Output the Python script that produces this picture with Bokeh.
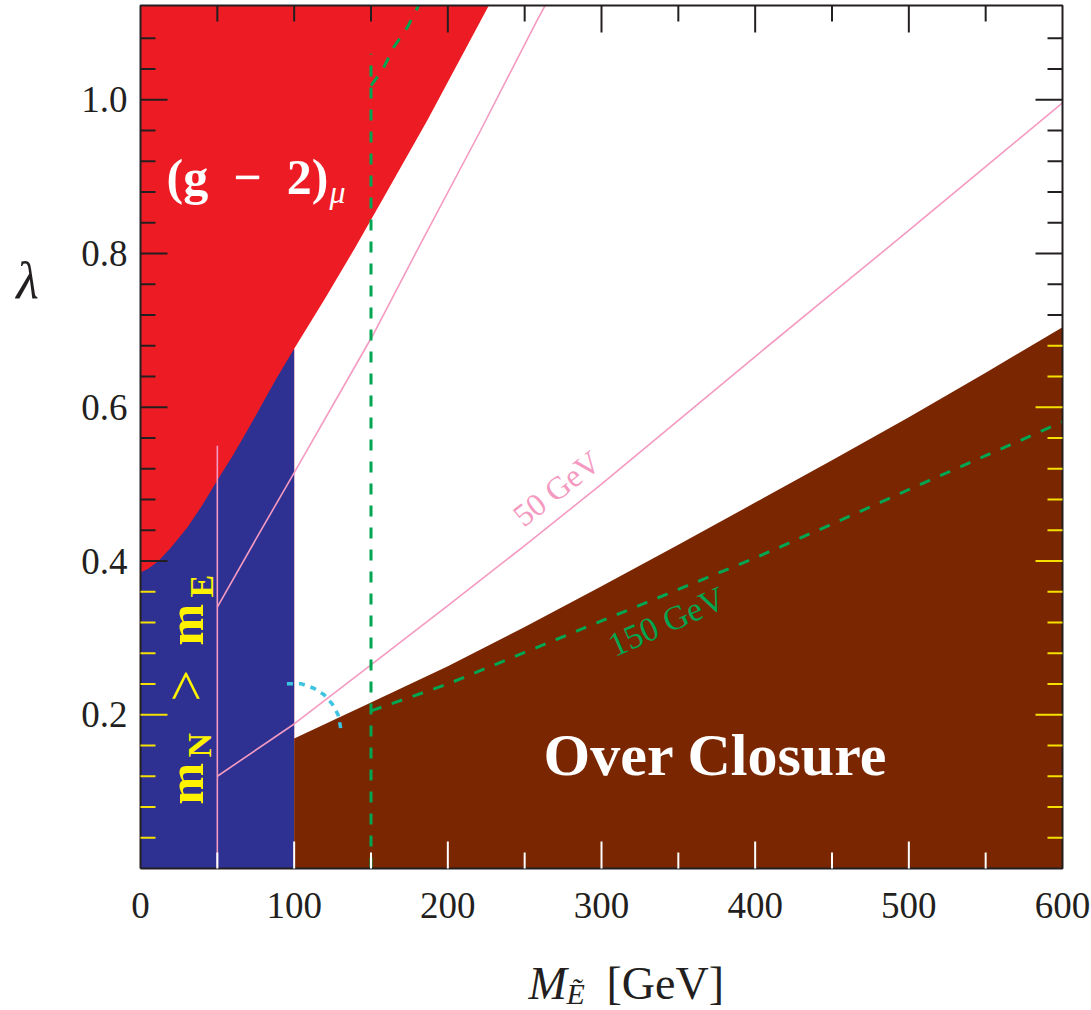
import numpy as np
from bokeh.plotting import figure
from bokeh.models import Label, Range1d, FixedTicker
from bokeh.embed import file_html
from bokeh.resources import INLINE

# ---------------- data ----------------
# (g-2)_mu excluded region: lower boundary (0..100 GeV) and right edge (100 GeV..top)
gm2_lower_x = [0, 5, 11.7, 20, 30.6, 40, 50, 60, 69.6, 80, 87.8, 100]
gm2_lower_y = [0.385, 0.39, 0.40, 0.418, 0.444, 0.472, 0.505, 0.537, 0.570, 0.607, 0.635, 0.676]
gm2_edge_x = [100, 120, 138.9, 160, 186.6, 226.5, 228.5]
gm2_edge_y = [0.676, 0.741, 0.805, 0.879, 0.973, 1.122, 1.13]

# m_N > m_E region boundary
mass_cut = 100

# Over closure region upper edge
oc_edge_x = [100, 150, 200, 250, 300, 350, 400, 450, 500, 550, 600]
oc_edge_y = [0.169, 0.216, 0.263, 0.314, 0.367, 0.421, 0.476, 0.531, 0.587, 0.645, 0.704]

# pink contours
pink_a_x = [50, 75, 100.9, 151, 180, 221.3, 258, 264.5]
pink_a_y = [0.34, 0.428, 0.518, 0.693, 0.804, 0.96, 1.103, 1.127]
pink_b_x = [50, 100, 150, 200, 250, 300, 350, 400, 450, 500, 550, 600]
pink_b_y = [0.12, 0.188, 0.265, 0.342, 0.42, 0.50, 0.583, 0.666, 0.748, 0.83, 0.913, 0.996]
pink_vert_x = 50
pink_vert_top = 0.55

# green dashed contours (150 GeV)
green_vert_x = 150
green_vert_top = 1.06
green_low_x = [150, 200, 250, 300, 350, 400, 450, 500, 550, 600]
green_low_y = [0.205, 0.240, 0.281, 0.322, 0.363, 0.404, 0.448, 0.493, 0.537, 0.581]
green_high_x = [150, 157.3, 164.7, 173.6, 180.1, 181.5]
green_high_y = [1.0185, 1.038, 1.068, 1.094, 1.119, 1.126]

# cyan dotted arc
cyan_x = [95.3, 104.8, 112.8, 119.3, 124.7, 128.6, 130.1, 130.3]
cyan_y = [0.2402, 0.2402, 0.2345, 0.2263, 0.2142, 0.1999, 0.1847, 0.1795]

# axes extent and ticks
x_min, x_max = 0, 600
y_min, y_top = 0, 1.1226
x_major = [0, 100, 200, 300, 400, 500, 600]
x_labels = ["0", "100", "200", "300", "400", "500", "600"]
x_minor = [50, 150, 250, 350, 450, 550]
y_major = [0.2, 0.4, 0.6, 0.8, 1.0]
y_labels = ["0.2", "0.4", "0.6", "0.8", "1.0"]
y_minor = [0.04, 0.08, 0.12, 0.16, 0.24, 0.28, 0.32, 0.36, 0.44, 0.48, 0.52, 0.56,
           0.64, 0.68, 0.72, 0.76, 0.84, 0.88, 0.92, 0.96, 1.04, 1.08]

# ---------------- styling ----------------
RED = "#ed1c24"
BLUE = "#2e3192"
BROWN = "#7a2600"
PINK = "#f49ac1"
GREEN = "#00a651"
CYAN = "#3ec3e0"
YELLOW = "#fff200"
TICK_YELLOW = "#f5e100"
INK = "#231f20"
FONT = "Liberation Serif"

W, H = 1091, 1010
LEFT_PX, BOTTOM_PX = 140, 868          # canvas position of (0, 0)
PPX = 922 / 600.0                      # pixels per GeV
PPY = 768.75                           # pixels per unit of lambda

p = figure(width=W, height=H,
           x_range=Range1d(-LEFT_PX / PPX, (W - LEFT_PX) / PPX),
           y_range=Range1d(-(H - BOTTOM_PX) / PPY, BOTTOM_PX / PPY),
           output_backend="svg", toolbar_location=None, min_border=0)
p.grid.visible = False
p.background_fill_color = "white"
p.border_fill_color = "white"
p.outline_line_color = None


def clip_top(xs, ys, top):
    ox, oy = [], []
    for i in range(len(xs)):
        if ys[i] <= top:
            ox.append(xs[i]); oy.append(ys[i])
        else:
            if i > 0:
                t = (top - ys[i - 1]) / (ys[i] - ys[i - 1])
                ox.append(xs[i - 1] + t * (xs[i] - xs[i - 1])); oy.append(top)
            break
    return ox, oy


# regions
ex, ey = clip_top(gm2_edge_x, gm2_edge_y, y_top)
red_x = [0, 0] + ex[::-1] + [mass_cut]
red_y = [y_min, y_top] + ey[::-1] + [y_min]
p.patch(red_x, red_y, fill_color=RED, line_color=None)

blue_x = [0, mass_cut] + gm2_lower_x[::-1]
blue_y = [y_min, y_min] + gm2_lower_y[::-1]
p.patch(blue_x, blue_y, fill_color=BLUE, line_color=None)

brown_x = [oc_edge_x[0]] + oc_edge_x + [oc_edge_x[-1]]
brown_y = [y_min] + oc_edge_y + [y_min]
p.patch(brown_x, brown_y, fill_color=BROWN, line_color=None)

# contours
p.line(*clip_top(pink_a_x, pink_a_y, y_top), line_color=PINK, line_width=1.6)
p.line(pink_b_x, pink_b_y, line_color=PINK, line_width=1.6)
p.line([pink_vert_x, pink_vert_x], [y_min, pink_vert_top], line_color=PINK, line_width=1.6)

p.line([green_vert_x, green_vert_x], [y_min, green_vert_top], line_color=GREEN,
       line_width=3, line_dash="11 11")
p.line(green_low_x, green_low_y, line_color=GREEN, line_width=3, line_dash="11 11")
p.line(*clip_top(green_high_x, green_high_y, y_top), line_color=GREEN, line_width=3,
       line_dash="11 11")

p.line(cyan_x, cyan_y, line_color=CYAN, line_width=3.5, line_dash="6 6")

# axes pinned at the plot's origin
p.xaxis.fixed_location = y_min
p.yaxis.fixed_location = x_min
p.xaxis.ticker = FixedTicker(ticks=x_major)
p.yaxis.ticker = FixedTicker(ticks=y_major)
p.xaxis.major_label_overrides = dict(zip(x_major, x_labels))
p.yaxis.major_label_overrides = dict(zip(y_major, y_labels))
for ax in (p.xaxis[0], p.yaxis[0]):
    ax.axis_line_color = None
    ax.major_tick_line_color = None
    ax.minor_tick_line_color = None
    ax.major_label_text_font = FONT
    ax.major_label_text_font_size = "37px"
    ax.major_label_text_color = INK
p.xaxis.major_label_standoff = 18
p.yaxis.major_label_standoff = 7

# frame of the plot region
p.line([x_min, x_max, x_max, x_min, x_min], [y_min, y_min, y_top, y_top, y_min],
       line_color=INK, line_width=2, level="overlay")

# ticks drawn inside the frame, coloured per region
MAJ, MIN = 27, 16
left_thr = gm2_lower_y[0]
right_thr = float(np.interp(x_max, oc_edge_x, oc_edge_y))

x0, y0, x1, y1, col = [], [], [], [], []
for xs, ln in ((x_major[1:-1], MAJ), (x_minor, MIN)):
    for x in xs:
        x0.append(x); x1.append(x); y0.append(y_min); y1.append(y_min + ln / PPY); col.append("white")
        tl = MIN if x == 100 else ln
        x0.append(x); x1.append(x); y0.append(y_top); y1.append(y_top - tl / PPY); col.append(INK)
for ys, ln in ((y_major, MAJ), (y_minor, MIN - 1)):
    for y in ys:
        x0.append(x_min); x1.append(x_min + ln / PPX); y0.append(y); y1.append(y)
        col.append(TICK_YELLOW if y < left_thr else INK)
        x0.append(x_max); x1.append(x_max - ln / PPX); y0.append(y); y1.append(y)
        col.append(TICK_YELLOW if y < right_thr else INK)
p.segment(x0=x0, y0=y0, x1=x1, y1=y1, line_color=col, line_width=2, level="overlay")

MID = 0.3375   # distance (in em) from the alphabetic baseline to the text box middle


def px2x(px):
    return (px - LEFT_PX) / PPX


def py2y(py):
    return (BOTTOM_PX - py) / PPY


def lab(text, px, py, size, color=INK, style="normal", align="left"):
    """Horizontal text whose alphabetic baseline sits at canvas row py."""
    p.add_layout(Label(x=px2x(px), y=py2y(py - MID * size), text=text, text_font=FONT,
                       text_font_size=f"{size}px", text_color=color,
                       text_font_style=style, text_align=align, text_baseline="middle"))


def vlab(text, px, py, size, color=INK, style="normal"):
    """Text rotated by 90 degrees whose baseline sits at canvas column px."""
    p.add_layout(Label(x=px2x(px - MID * size), y=py2y(py), text=text, text_font=FONT,
                       text_font_size=f"{size}px", text_color=color,
                       text_font_style=style, angle=np.pi / 2, text_align="left",
                       text_baseline="middle"))


def clab(text, px, py, size, color, deg):
    p.add_layout(Label(x=px2x(px), y=py2y(py), text=text, text_font=FONT,
                       text_font_size=f"{size}px", text_color=color,
                       angle=np.radians(deg), text_align="center", text_baseline="middle"))


# region labels
lab("(g\u2002\u2212\u20022)", 166, 193, 50, "white", "bold")
lab("\u03bc", 329, 202, 32, "white", "italic")

lab("Over Closure", 715, 775, 60, "white", "bold", align="center")

vlab("m", 202, 804, 50, YELLOW, "bold")
vlab("N", 210, 757, 34, YELLOW, "bold")
vlab(">", 204, 701, 56, YELLOW, "normal")
vlab("m", 202, 645, 50, YELLOW, "bold")
vlab("E", 212, 597, 34, YELLOW, "bold")

clab("50 GeV", 556, 488, 32, PINK, 38)
clab("150 GeV", 666, 621, 34, GREEN, 24)

# axis titles
lab("\u03bb", 27, 298, 52, INK, "italic", align="center")
lab("M", 528, 999, 46, INK, "italic")
lab("\u1ebc", 566, 1003, 30, INK, "italic")
lab("[GeV]", 606, 999, 46, INK)

open("out.html", "w").write(file_html(p, INLINE))
